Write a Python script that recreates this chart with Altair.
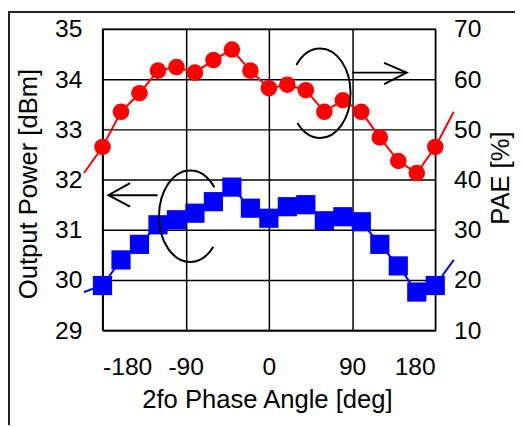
import altair as alt
import pandas as pd

# ---- data ----
phase = [-180, -160, -140, -120, -100, -80, -60, -40, -20, 0,
         20, 40, 60, 80, 100, 120, 140, 160, 180]
pout = [29.89, 30.40, 30.71, 31.10, 31.20, 31.33, 31.56, 31.85, 31.43, 31.23,
        31.46, 31.50, 31.18, 31.26, 31.16, 30.71, 30.28, 29.76, 29.89]
pae = [46.5, 53.5, 57.2, 61.7, 62.4, 61.3, 63.8, 65.9, 61.7, 58.2,
       58.9, 57.8, 53.5, 55.8, 53.5, 48.4, 43.7, 41.3, 46.5]

x_ticks = [-180, -90, 0, 90, 180]
pout_ticks = [29, 30, 31, 32, 33, 34, 35]
pae_ticks = [10, 20, 30, 40, 50, 60, 70]

# phase is periodic: the curves continue past +/-180 (wrapped values)
line_phase = [-200] + phase + [200]
line_pout = [pout[-2]] + pout + [pout[1]]
line_pae = [pae[-2]] + pae + [pae[1]]

pts = pd.DataFrame({"phase": phase, "pout": pout, "pae": pae})
lines = pd.DataFrame({"phase": line_phase, "pout": line_pout, "pae": line_pae})

# annotations (data units)
ell_pae = pd.DataFrame({"phase": [55.4], "pae": [57.2]})
ell_pout = pd.DataFrame({"phase": [-85.2], "pout": [31.27]})
arr_pae = pd.DataFrame({"x1": [90.5], "x2": [149.1], "pae": [61.3]})
arr_pout = pd.DataFrame({"x1": [-120.4], "x2": [-173.6], "pout": [31.69]})

ELL_OPEN_LEFT = ("M -0.528 -0.631 C -0.399 -0.865 -0.205 -1 0 -1 "
                 "C 0.376 -1 0.68 -0.552 0.68 0 C 0.68 0.552 0.376 1 0 1 "
                 "C -0.193 1 -0.378 0.878 -0.507 0.667")
ELL_OPEN_RIGHT = ("M 0.528 -0.631 C 0.399 -0.865 0.205 -1 0 -1 "
                  "C -0.376 -1 -0.68 -0.552 -0.68 0 C -0.68 0.552 -0.376 1 0 1 "
                  "C 0.193 1 0.378 0.878 0.507 0.667")
HEAD_RIGHT = "M -1 -0.43 L 0 0 L -1 0.51"
HEAD_LEFT = "M 1 -0.55 L 0 0 L 1 0.53"

W, H = 338, 306
FONT = "Liberation Sans"
LFS = 25
TFS = 26
HYPHEN = "replace(datum.label, '\u2212', '-')"

xscale = alt.Scale(domain=[-180, 180], nice=False, zero=False)
xaxis = alt.Axis(values=x_ticks, title="2fo Phase Angle [deg]", grid=True,
                 ticks=False, tickSize=0, labelPadding=25, domainColor="black",
                 domainWidth=1.5, titleY=79, titleBaseline="alphabetic",
                 titleX=W / 2 - 2, titleAlign="center", labelExpr=HYPHEN)
X = alt.X("phase:Q", scale=xscale, axis=xaxis)

yl_scale = alt.Scale(domain=[29, 35], nice=False, zero=False)
yl_axis = alt.Axis(values=pout_ticks, title="Output Power [dBm]", grid=True,
                   ticks=False, tickSize=0, labelPadding=21, domainColor="black",
                   domainWidth=1.5, titleAngle=270, titleX=-67.5, titleY=157,
                   titleBaseline="alphabetic", titleAlign="center")
yr_scale = alt.Scale(domain=[10, 70], nice=False, zero=False)
yr_axis = alt.Axis(values=pae_ticks, title="PAE [%]", grid=False, orient="right",
                   ticks=False, tickSize=0, labelPadding=18.5, domain=False,
                   titleAngle=270, titleX=74.5, titleY=151,
                   titleBaseline="alphabetic", titleAlign="center")

YL = alt.Y("pout:Q", scale=yl_scale, axis=yl_axis)
YR = alt.Y("pae:Q", scale=yr_scale, axis=yr_axis)

blue = "#0000FF"
red = "#FF0000"

blue_line = alt.Chart(lines).mark_line(color=blue, strokeWidth=2).encode(x=X, y=YL)
blue_pts = alt.Chart(pts).mark_point(shape="square", filled=True, color=blue,
                                     size=380, opacity=1).encode(x=X, y=YL)
ell2 = alt.Chart(ell_pout).mark_point(shape=ELL_OPEN_RIGHT, filled=False, color="black",
                                      size=93 * 93, strokeWidth=2, opacity=1).encode(x=X, y=YL)
arr2 = alt.Chart(arr_pout).mark_rule(color="black", strokeWidth=2).encode(
    x=alt.X("x1:Q", scale=xscale, axis=xaxis), x2="x2:Q", y=YL)
head2 = alt.Chart(arr_pout).mark_point(shape=HEAD_LEFT, filled=False, color="black",
                                       size=44 * 44, strokeWidth=2, opacity=1).encode(
    x=alt.X("x2:Q", scale=xscale, axis=xaxis), y=YL)

# outer frame of the original chart area (decoration)
frame_v = alt.Chart(pts).mark_rule(color="#222222", strokeWidth=1.5).encode(
    x=alt.value(-95.2), y=alt.value(-18), y2=alt.value(H + 100))
frame_h = alt.Chart(pts).mark_rule(color="#222222", strokeWidth=1.5).encode(
    y=alt.value(-17.2), x=alt.value(-96), x2=alt.value(W + 100))

left = alt.layer(frame_v, frame_h, blue_line, blue_pts, ell2, arr2, head2)

red_line = alt.Chart(lines).mark_line(color=red, strokeWidth=2).encode(x=X, y=YR)
red_pts = alt.Chart(pts).mark_circle(color=red, size=283, opacity=1).encode(x=X, y=YR)
ell1 = alt.Chart(ell_pae).mark_point(shape=ELL_OPEN_LEFT, filled=False, color="black",
                                     size=91 * 91, strokeWidth=2, opacity=1).encode(x=X, y=YR)
arr1 = alt.Chart(arr_pae).mark_rule(color="black", strokeWidth=2).encode(
    x=alt.X("x1:Q", scale=xscale, axis=xaxis), x2="x2:Q", y=YR)
head1 = alt.Chart(arr_pae).mark_point(shape=HEAD_RIGHT, filled=False, color="black",
                                      size=46 * 46, strokeWidth=2, opacity=1).encode(
    x=alt.X("x2:Q", scale=xscale, axis=xaxis), y=YR)

right = alt.layer(red_line, red_pts, ell1, arr1, head1)

chart = alt.layer(left, right).resolve_scale(y="independent").properties(
    width=W, height=H,
    background="white",
    autosize=alt.AutoSizeParams(type="none"),
    padding={"left": 96, "top": 18, "right": 81, "bottom": 93},
).configure_view(stroke="#555555", strokeWidth=1.5).configure_axis(
    labelFont=FONT, titleFont=FONT, labelFontSize=LFS, titleFontSize=TFS,
    labelColor="black", titleColor="black", titleFontWeight="normal",
    gridColor="black", gridWidth=1.5, gridOpacity=1,
)

chart.save("out.html", embed_options={"renderer": "svg", "actions": False})
